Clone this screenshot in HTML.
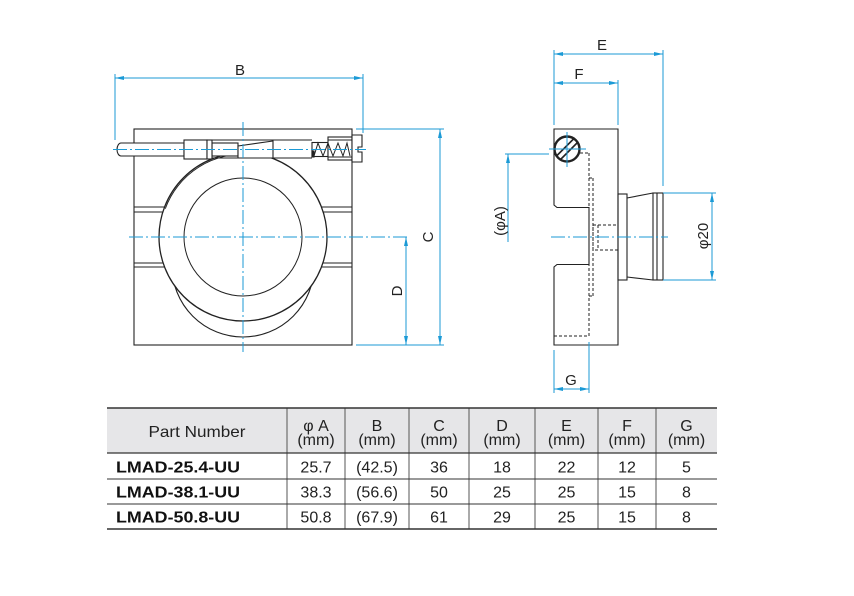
<!DOCTYPE html>
<html><head><meta charset="utf-8"><style>
html,body{margin:0;padding:0;background:#fff;}
svg{display:block;}
text{font-family:"Liberation Sans",Arial,sans-serif;}
</style></head><body>
<svg width="854" height="596" viewBox="0 0 854 596" xmlns="http://www.w3.org/2000/svg">
<defs>
<marker id="ar" viewBox="0 0 9 4" refX="9" refY="2" markerWidth="9" markerHeight="4" markerUnits="userSpaceOnUse" orient="auto-start-reverse">
<path d="M0,0 L9,2 L0,4 Z" fill="#1b9ad6"/>
</marker>
<clipPath id="scr"><circle cx="567" cy="149" r="12"/></clipPath>
</defs>
<rect width="854" height="596" fill="#fff"/>

<!-- ============ FRONT VIEW ============ -->
<g stroke="#222" fill="none" stroke-width="1.1">
  <rect x="134" y="129" width="218" height="216"/>
  <!-- grooves -->
  <line x1="134" y1="207" x2="352" y2="207"/>
  <line x1="134" y1="212" x2="352" y2="212"/>
  <line x1="134" y1="263" x2="352" y2="263"/>
  <line x1="134" y1="267" x2="352" y2="267"/>
  <!-- lower back circle -->
  <circle cx="243" cy="266" r="71"/>
  <!-- main ring -->
  <circle cx="243" cy="237" r="84" fill="#fff" stroke-width="1.3"/>
  <path d="M165.3,208.7 A82.7,82.7 0 0 1 250.2,154.6" stroke-width="0.9"/>
  <circle cx="243" cy="237" r="59" stroke-width="1"/>
  <!-- channel lines -->
  <line x1="212" y1="140" x2="312" y2="140"/>
  <line x1="212" y1="158" x2="312" y2="158"/>
  <!-- rod -->
  <path d="M121,143 H184 V156 H121 A4,6.5 0 0 1 121,143 Z" fill="#fff"/>
  <rect x="212" y="143" width="26" height="13" fill="#fff"/>
  <!-- sleeve + collar -->
  <rect x="184" y="140" width="23" height="19" fill="#fff"/>
  <rect x="207" y="140" width="5" height="19" fill="#fff"/>
  <!-- wedge -->
  <path d="M238,146 L273,141 V158 H238 Z" fill="#fff"/>
  <!-- spring housing -->
  <rect x="312" y="142.5" width="16" height="14" fill="#fff"/>
  <rect x="328" y="137" width="24" height="23" fill="#fff"/>
  <line x1="328" y1="140" x2="352" y2="140"/>
  <line x1="328" y1="157" x2="352" y2="157"/>
  <polyline points="314,156 318,143 323,156 328,143 333,156 338,143 343,156 347,143 350,156" stroke-width="1"/>
  <rect x="312" y="151" width="2" height="6" fill="#222"/>
  <!-- screw head -->
  <path d="M352,135 H362 V147 H358 V152 H362 V162 H352 Z" fill="#fff"/>
</g>
<!-- front centre lines -->
<g stroke="#1b9ad6" stroke-width="1" stroke-dasharray="14,3,2,3" fill="none">
  <line x1="243" y1="122" x2="243" y2="352"/>
  <line x1="129" y1="237" x2="410" y2="237"/>
  <line x1="113" y1="149.5" x2="366" y2="149.5"/>
</g>
<!-- front dimensions -->
<g stroke="#1b9ad6" stroke-width="1" fill="none">
  <line x1="115" y1="74" x2="115" y2="140"/>
  <line x1="363" y1="74" x2="363" y2="133"/>
  <line x1="115" y1="78" x2="363" y2="78" marker-start="url(#ar)" marker-end="url(#ar)"/>
  <line x1="356" y1="129" x2="444" y2="129"/>
  <line x1="356" y1="345" x2="444" y2="345"/>
  <line x1="440" y1="129" x2="440" y2="345" marker-start="url(#ar)" marker-end="url(#ar)"/>
  <line x1="406" y1="237" x2="406" y2="345" marker-start="url(#ar)" marker-end="url(#ar)"/>
</g>
<g fill="#222" font-size="15">
  <text x="240" y="75" text-anchor="middle">B</text>
  <text transform="translate(433,237) rotate(-90)" text-anchor="middle">C</text>
  <text transform="translate(402,291) rotate(-90)" text-anchor="middle">D</text>
</g>

<!-- ============ SIDE VIEW ============ -->
<g stroke="#222" fill="none" stroke-width="1" stroke-dasharray="3,2">
  <line x1="570" y1="153" x2="589" y2="153"/>
  <line x1="589" y1="153" x2="589" y2="336"/>
  <line x1="593" y1="178" x2="593" y2="296"/>
  <line x1="589" y1="178" x2="593" y2="178"/>
  <line x1="589" y1="296" x2="593" y2="296"/>
  <line x1="554" y1="336" x2="589" y2="336"/>
  <rect x="593" y="225" width="25" height="25"/>
  <line x1="598" y1="225" x2="598" y2="250"/>
</g>
<g stroke="#222" fill="none" stroke-width="1.1">
  <path d="M554,129 H618 V345 H554 V267 L557,264.5 H589 V207.5 H557 L554,205 Z"/>
  <rect x="618" y="194" width="9" height="86"/>
  <line x1="627" y1="198" x2="653" y2="193"/>
  <line x1="627" y1="277" x2="653" y2="280"/>
  <rect x="653" y="193" width="10" height="87"/>
  <line x1="657" y1="193" x2="657" y2="280"/>
  <circle cx="567" cy="149" r="12.5" fill="#fff" stroke-width="2.4"/>
  <g clip-path="url(#scr)" stroke-width="1.6">
    <line x1="556" y1="156.5" x2="574" y2="138.5"/>
    <line x1="560" y1="160" x2="578" y2="142"/>
  </g>
</g>
<g stroke="#1b9ad6" stroke-width="1" fill="none">
  <line x1="567" y1="132" x2="567" y2="167"/>
  <line x1="549" y1="149" x2="586" y2="149"/>
  <line x1="551" y1="237" x2="668" y2="237" stroke-dasharray="14,3,2,3"/>
  <!-- E -->
  <line x1="554" y1="50" x2="554" y2="125"/>
  <line x1="663" y1="50" x2="663" y2="186"/>
  <line x1="554" y1="54" x2="663" y2="54" marker-start="url(#ar)" marker-end="url(#ar)"/>
  <!-- F -->
  <line x1="618" y1="80" x2="618" y2="125"/>
  <line x1="554" y1="83" x2="618" y2="83" marker-start="url(#ar)" marker-end="url(#ar)"/>
  <!-- phiA -->
  <line x1="505" y1="154" x2="549" y2="154"/>
  <line x1="508" y1="242" x2="508" y2="154" marker-end="url(#ar)"/>
  <!-- phi20 -->
  <line x1="663" y1="193" x2="716" y2="193"/>
  <line x1="663" y1="280" x2="716" y2="280"/>
  <line x1="712" y1="193" x2="712" y2="280" marker-start="url(#ar)" marker-end="url(#ar)"/>
  <!-- G -->
  <line x1="554" y1="350" x2="554" y2="393"/>
  <line x1="589" y1="342" x2="589" y2="393"/>
  <line x1="554" y1="389" x2="589" y2="389" marker-start="url(#ar)" marker-end="url(#ar)"/>
</g>
<g fill="#222" font-size="15">
  <text x="602" y="50" text-anchor="middle">E</text>
  <text x="579" y="79" text-anchor="middle">F</text>
  <text x="571" y="385" text-anchor="middle">G</text>
  <text transform="translate(505,221) rotate(-90)" text-anchor="middle">(φA)</text>
  <text transform="translate(708,236) rotate(-90)" text-anchor="middle">φ20</text>
</g>

<!-- ============ TABLE ============ -->
<rect x="107" y="408" width="610" height="45" fill="#e6e6e8"/>
<g stroke="#555" stroke-width="1">
  <line x1="287" y1="408" x2="287" y2="529"/>
  <line x1="345" y1="408" x2="345" y2="529"/>
  <line x1="409" y1="408" x2="409" y2="529"/>
  <line x1="469" y1="408" x2="469" y2="529"/>
  <line x1="535" y1="408" x2="535" y2="529"/>
  <line x1="598" y1="408" x2="598" y2="529"/>
  <line x1="656" y1="408" x2="656" y2="529"/>
</g>
<g stroke="#333">
  <line x1="107" y1="408" x2="717" y2="408" stroke-width="1.6"/>
  <line x1="107" y1="453" x2="717" y2="453" stroke-width="1.3"/>
  <line x1="107" y1="479" x2="717" y2="479" stroke-width="1"/>
  <line x1="107" y1="504" x2="717" y2="504" stroke-width="1"/>
  <line x1="107" y1="529" x2="717" y2="529" stroke-width="1.6"/>
</g>
<g fill="#222" font-size="16" text-anchor="middle">
  <text x="197" y="437" textLength="97" lengthAdjust="spacingAndGlyphs">Part Number</text>
  <text x="316" y="431">φ A</text><text x="316" y="445">(mm)</text>
  <text x="377" y="431">B</text><text x="377" y="445">(mm)</text>
  <text x="439" y="431">C</text><text x="439" y="445">(mm)</text>
  <text x="502" y="431">D</text><text x="502" y="445">(mm)</text>
  <text x="566.5" y="431">E</text><text x="566.5" y="445">(mm)</text>
  <text x="627" y="431">F</text><text x="627" y="445">(mm)</text>
  <text x="686.5" y="431">G</text><text x="686.5" y="445">(mm)</text>

  <text x="316" y="472.5">25.7</text>
  <text x="377" y="472.5">(42.5)</text>
  <text x="439" y="472.5">36</text>
  <text x="502" y="472.5">18</text>
  <text x="566.5" y="472.5">22</text>
  <text x="627" y="472.5">12</text>
  <text x="686.5" y="472.5">5</text>

  <text x="316" y="497.5">38.3</text>
  <text x="377" y="497.5">(56.6)</text>
  <text x="439" y="497.5">50</text>
  <text x="502" y="497.5">25</text>
  <text x="566.5" y="497.5">25</text>
  <text x="627" y="497.5">15</text>
  <text x="686.5" y="497.5">8</text>

  <text x="316" y="522.5">50.8</text>
  <text x="377" y="522.5">(67.9)</text>
  <text x="439" y="522.5">61</text>
  <text x="502" y="522.5">29</text>
  <text x="566.5" y="522.5">25</text>
  <text x="627" y="522.5">15</text>
  <text x="686.5" y="522.5">8</text>
</g>
<g fill="#111" font-size="16" font-weight="bold">
  <text x="116" y="472.5" textLength="124" lengthAdjust="spacingAndGlyphs">LMAD-25.4-UU</text>
  <text x="116" y="497.5" textLength="124" lengthAdjust="spacingAndGlyphs">LMAD-38.1-UU</text>
  <text x="116" y="522.5" textLength="124" lengthAdjust="spacingAndGlyphs">LMAD-50.8-UU</text>
</g>
</svg>
</body></html>
